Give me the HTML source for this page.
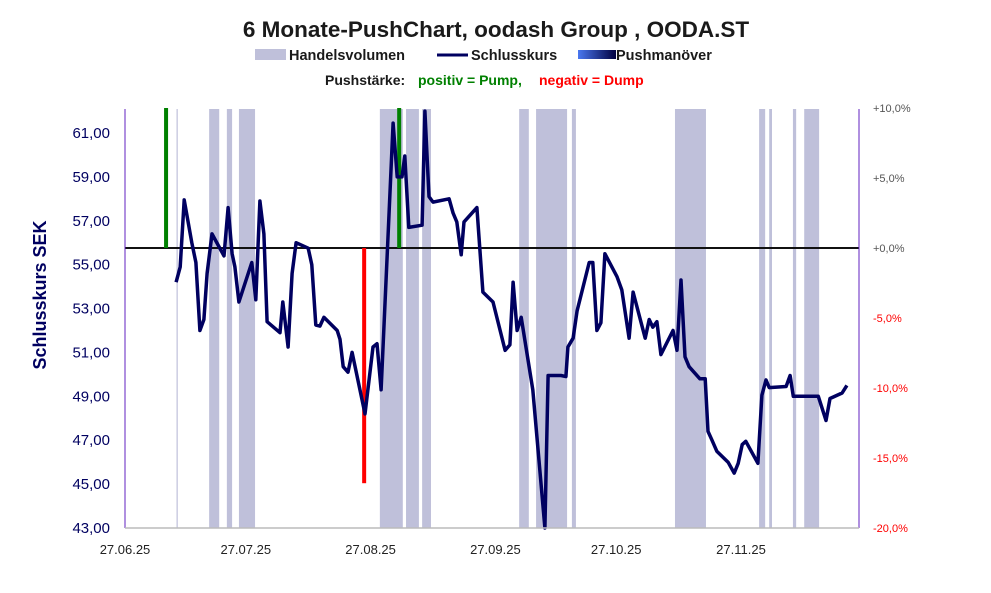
<!DOCTYPE html>
<html><head><meta charset="utf-8"><style>
body{margin:0;background:#fff;}
svg{display:block;font-family:"Liberation Sans",sans-serif;}
</style></head><body>
<svg id="chart" width="991" height="593" viewBox="0 0 991 593">
<text x="496" y="37" text-anchor="middle" font-size="22.5" font-weight="bold" fill="#1a1a1a">6 Monate-PushChart, oodash Group , OODA.ST</text>
<g>
<rect x="255" y="49" width="31" height="11" fill="#bfc0da"/>
<text x="289" y="60" font-size="14.5" font-weight="bold" fill="#1a1a1a">Handelsvolumen</text>
<line x1="437" y1="55" x2="468" y2="55" stroke="#000060" stroke-width="3"/>
<text x="471" y="60" font-size="14.5" font-weight="bold" fill="#1a1a1a">Schlusskurs</text>
<defs><linearGradient id="pg" x1="0" x2="1"><stop offset="0" stop-color="#4a78f0"/><stop offset="1" stop-color="#000040"/></linearGradient></defs>
<rect x="578" y="50" width="38" height="9" fill="url(#pg)"/>
<text x="616" y="60" font-size="14.5" font-weight="bold" fill="#1a1a1a">Pushmanöver</text>
<text x="325" y="85" font-size="14" font-weight="bold" fill="#1a1a1a">Pushstärke:</text>
<text x="418" y="85" font-size="14" font-weight="bold" fill="#008000">positiv = Pump,</text>
<text x="539" y="85" font-size="14" font-weight="bold" fill="#ff0000">negativ = Dump</text>
</g>
<g id="bands"></g>
<g id="grid"></g>
<g id="pushes"></g>
<path id="line" fill="none" stroke="#000060" stroke-width="3.5" stroke-linejoin="round"/>
<g id="axes"></g>
<text transform="translate(46,295) rotate(-90)" text-anchor="middle" font-size="18" font-weight="bold" fill="#000060">Schlusskurs SEK</text>
</svg>
<script>
// day offsets from 27.06.25
const days=[12.7,13.7,14.7,16.6,17.6,18.6,19.6,20.4,21.6,24.6,25.6,26.6,27.3,28.3,31.5,32.5,33.5,34.5,35.3,38.5,39.2,40.5,41.5,42.5,45.5,46.4,47.4,48.4,49.4,52.7,53.4,54.2,55.4,56.4,59.6,61.6,62.6,63.6,65.1,66.6,67.6,68.8,69.5,70.5,73.8,74.5,75.5,76.5,80.5,81.5,82.4,83.5,84.2,87.4,88.9,91.4,94.4,95.6,96.4,97.4,98.4,101.3,104.3,105.1,108.3,109.5,110.0,111.3,112.3,115.3,116.2,117.2,118.2,119.2,122.2,123.4,125.2,126.2,129.2,130.2,131.1,132.1,133.1,136.1,137.1,138.1,139.1,140.1,142.8,144.1,144.8,145.8,147.0,149.8,151.3,152.3,153.3,154.2,157.2,158.2,159.2,160.0,164.2,165.2,166.0,172.2,174.1,175.1,178.1,179.3];
const prices=[54.2,54.9,57.95,56.0,55.1,52.0,52.5,54.6,56.4,55.4,57.6,55.5,54.9,53.3,55.1,53.4,57.9,56.4,52.4,51.9,53.3,51.25,54.6,56.0,55.75,55.0,52.25,52.2,52.6,52.0,51.6,50.35,50.1,51.0,48.2,51.25,51.4,49.3,55.35,61.45,59.0,59.0,59.95,56.7,56.8,62.0,58.1,57.85,58.0,57.35,56.95,55.45,56.95,57.6,53.75,53.3,51.1,51.35,54.2,52.0,52.6,49.3,43.0,49.95,49.95,49.9,51.25,51.65,52.9,55.1,55.1,52.0,52.35,55.5,54.45,53.85,51.65,53.75,51.65,52.5,52.15,52.4,50.9,52.0,51.1,54.3,50.8,50.35,49.8,49.8,47.4,47.0,46.5,46.0,45.5,45.95,46.8,46.95,45.95,49.05,49.75,49.4,49.45,49.95,49.0,49.0,47.9,48.9,49.15,49.5];
const bandStart=[12.8,20.9,25.3,28.3,63.3,69.8,73.8,97.9,102.1,111.0,136.6,157.5,160.0,165.9,168.7];
const bandEnd=[13.1,23.4,26.6,32.3,69.0,73.0,76.0,100.3,109.8,112.0,144.3,159.0,160.7,166.7,172.4];
const pushDays=[10.2,59.4,68.1];
const pushValues=[10,-16.8,10];
const priceTicks=[43,45,47,49,51,53,55,57,59,61];
const pctTicks=[10,5,0,-5,-10,-15,-20];
const dateLabels=["27.06.25","27.07.25","27.08.25","27.09.25","27.10.25","27.11.25"];
const dateDays=[0,30,61,92,122,153];

const X0=125,X1=859,Y0=528,Y1=109;
const xs=d=>X0+d*(741-X0)/153;
const yp=p=>528-(p-43)*(528-133)/18;
const yr=v=>248-v*14;
const NS="http://www.w3.org/2000/svg";
function mk(t,a,parent){const e=document.createElementNS(NS,t);for(const k in a)e.setAttribute(k,a[k]);document.getElementById(parent).appendChild(e);return e;}

bandStart.forEach((s,i)=>{
 const r=mk('rect',{x:xs(s),y:Y1,width:Math.max(1,xs(bandEnd[i])-xs(s)),height:Y0-Y1,fill:'#bfc0da'},'bands');
 
 
});
const zl=mk('line',{x1:X0,x2:X1,y1:yr(0),y2:yr(0),stroke:'#111','stroke-width':2},'grid');


pushDays.forEach((d,i)=>{
 const v=pushValues[i];
 const r=mk('rect',{x:xs(d)-2,y:Math.min(yr(0),yr(v)),width:4,height:Math.abs(yr(v)-yr(0)),fill:v>0?'#008000':'#ff0000'},'pushes');
 
 
});
document.getElementById('line').setAttribute('d',days.map((d,i)=>(i?'L':'M')+xs(d).toFixed(1)+','+yp(prices[i]).toFixed(1)).join(''));

const la=mk('line',{x1:X0,x2:X0,y1:Y1,y2:Y0,stroke:'#6020c0','stroke-width':1},'axes');


const ra=mk('line',{x1:X1,x2:X1,y1:Y1,y2:Y0,stroke:'#6020c0','stroke-width':1},'axes');


const ba=mk('line',{x1:X0,x2:X1,y1:Y0,y2:Y0,stroke:'#bbb','stroke-width':1.5},'axes');


priceTicks.forEach(p=>{
 const t=mk('text',{x:110,y:yp(p)+5,'text-anchor':'end','font-size':15,fill:'#000060'},'axes');
 t.textContent=p.toFixed(2).replace('.',',');
 
 
});
pctTicks.forEach(v=>{
 const t=mk('text',{x:873,y:yr(v)+4,'font-size':11,fill:v<0?'#ff0000':'#555'},'axes');
 t.textContent=(v>=0?'+':'')+v.toFixed(1).replace('.',',')+'%';
 
 
});
dateLabels.forEach((l,i)=>{
 const t=mk('text',{x:xs(dateDays[i]),y:554,'text-anchor':'middle','font-size':13,fill:'#222'},'axes');
 t.textContent=l;
 
 
});
</script>
</body></html>
